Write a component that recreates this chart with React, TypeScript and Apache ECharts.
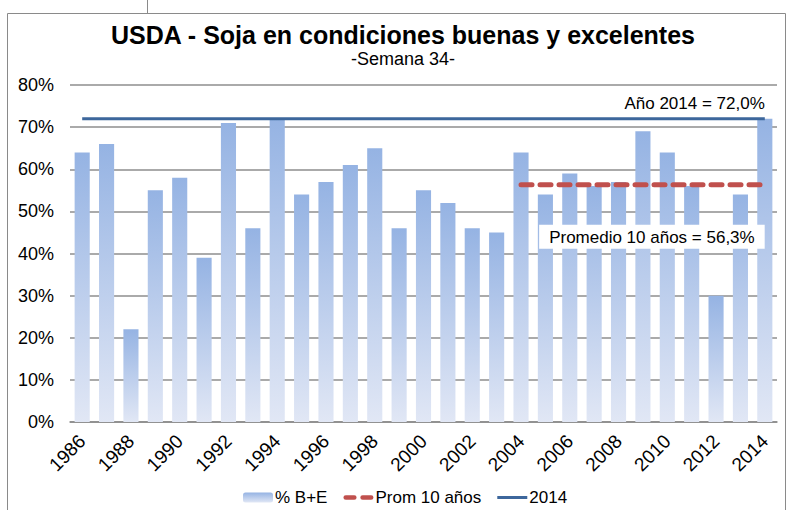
import React, { useEffect, useRef } from "react";
import * as echarts from "echarts";

const years = ["1986","1987","1988","1989","1990","1991","1992","1993","1994","1995","1996","1997","1998","1999","2000","2001","2002","2003","2004","2005","2006","2007","2008","2009","2010","2011","2012","2013","2014"];
const pctBE = [64,66,22,55,58,39,71,46,72,54,57,61,65,46,55,52,46,45,64,54,59,56,57,69,64,56,30,54,72];
const prom10Value = 56.3;
const prom10Start = "2004";
const value2014 = 72.0;
const yTicks = [0, 80, 10];

const FONT = "'Liberation Sans', Arial, sans-serif";

export default function App() {
  const ref = useRef<HTMLDivElement>(null);
  useEffect(() => {
    if (!ref.current) return;
    const chart = echarts.init(ref.current, undefined, { renderer: "svg" });
    const startIdx = years.indexOf(prom10Start);
    const labelIdx = years.indexOf("2009");
    const promData = years.map((_, i) => {
      if (i < startIdx) return null;
      if (i === labelIdx) {
        return {
          value: prom10Value,
          label: {
            show: true,
            position: "bottom",
            distance: 40,
            offset: [9, 0],
            formatter: "Promedio 10 años = 56,3%",
            backgroundColor: "#ffffff",
            padding: [4, 10, 3, 10],
            color: "#000",
            fontSize: 17,
            fontFamily: FONT,
          },
        };
      }
      return prom10Value;
    });
    const lineData = years.map((_, i) => {
      if (i === years.length - 1) {
        return {
          value: value2014,
          label: {
            show: true,
            position: "top",
            align: "right",
            distance: 7,
            formatter: "Año 2014 = 72,0%",
            color: "#000",
            fontSize: 17,
            fontFamily: FONT,
          },
        };
      }
      return value2014;
    });
    chart.setOption({
      animation: false,
      backgroundColor: "#ffffff",
      title: {
        text: "USDA - Soja en condiciones buenas y excelentes",
        subtext: "-Semana 34-",
        left: 398,
        textAlign: "center",
        top: 17,
        itemGap: 3,
        textStyle: { fontFamily: FONT, fontSize: 25, fontWeight: "bold", color: "#000" },
        subtextStyle: { fontFamily: FONT, fontSize: 18, color: "#000" },
      },
      legend: {
        bottom: -1,
        left: 238,
        itemGap: 16,
        itemWidth: 30,
        itemHeight: 10,
        textStyle: { fontFamily: FONT, fontSize: 17, color: "#000", padding: [0, 0, 0, -3] },
        data: [
          { name: "% B+E" },
          { name: "Prom 10 años", icon: "path://M2.5,0h9a2.5,2.5 0 0 1 0,5h-9a2.5,2.5 0 0 1 0,-5z M20.5,0h9a2.5,2.5 0 0 1 0,5h-9a2.5,2.5 0 0 1 0,-5z", itemStyle: { color: "#C0504D" } },
          { name: "2014", icon: "path://M0,0h30v3h-30z", itemStyle: { color: "#3D679C" } },
        ],
      },
      graphic: [
        { type: "rect", shape: { x: 7.5, y: 13.5, width: 778, height: 510 }, style: { fill: "none", stroke: "#8a8a8a", lineWidth: 1 }, z: 100 },
        { type: "line", shape: { x1: 147.5, y1: 0, x2: 147.5, y2: 13 }, style: { stroke: "#8a8a8a", lineWidth: 1 }, z: 100 },
      ],
      grid: { left: 70, right: 15, top: 85, bottom: 88, containLabel: false },
      xAxis: {
        type: "category",
        data: years,
        axisLine: { show: true, lineStyle: { color: "#8a8a8a", width: 1.5 } },
        axisTick: { show: false },
        axisLabel: { interval: 1, rotate: 45, fontSize: 19, fontFamily: FONT, color: "#000", margin: 16 },
      },
      yAxis: {
        type: "value",
        min: yTicks[0],
        max: yTicks[1],
        interval: yTicks[2],
        axisLine: { show: false },
        axisTick: { show: false },
        axisLabel: { formatter: "{value}%", fontSize: 18, fontFamily: FONT, color: "#000", margin: 16 },
        splitLine: { lineStyle: { color: "#8e8e8e", width: 1.5 } },
      },
      series: [
        {
          name: "% B+E",
          type: "bar",
          data: pctBE,
          barCategoryGap: "38%",
          itemStyle: {
            color: new echarts.graphic.LinearGradient(0, 0, 0, 1, [
              { offset: 0, color: "#95B3E3" },
              { offset: 1, color: "#E1E7F5" },
            ]),
          },
          z: 1,
        },
        {
          name: "Prom 10 años",
          type: "line",
          data: promData,
          showSymbol: true,
          symbol: "circle",
          symbolSize: 0,
          lineStyle: { color: "#C0504D", width: 5, type: [11, 8], cap: "round" },
          itemStyle: { color: "#C0504D" },
          z: 3,
        },
        {
          name: "2014",
          type: "line",
          data: lineData,
          showSymbol: true,
          symbol: "circle",
          symbolSize: 0,
          lineStyle: { color: "#3D679C", width: 3 },
          itemStyle: { color: "#3D679C" },
          z: 4,
        },
      ],
    });
    return () => chart.dispose();
  }, []);
  return <div ref={ref} style={{ position: "absolute", left: 0, top: 0, width: 792, height: 510 }} />;
}
